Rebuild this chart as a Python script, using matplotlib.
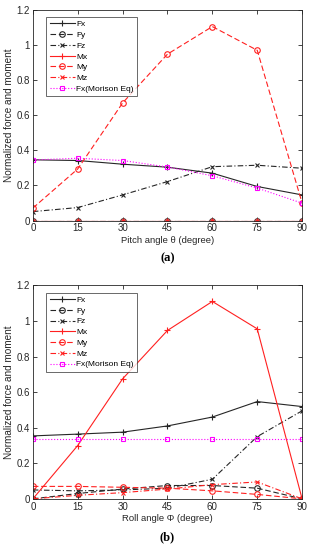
import numpy as np
import matplotlib.pyplot as plt

angles = [0, 15, 30, 45, 60, 75, 90]
yticks = [0, 0.2, 0.4, 0.6, 0.8, 1.0, 1.2]
ytick_labels = ['0', '0.2', '0.4', '0.6', '0.8', '1', '1.2']

# (a) pitch
pitch_fx = [0.346, 0.342, 0.321, 0.304, 0.270, 0.194, 0.146]
pitch_fy = [0, 0, 0, 0, 0, 0, 0]
pitch_fz = [0.051, 0.074, 0.146, 0.222, 0.307, 0.315, 0.298]
pitch_mx = [0, 0, 0, 0, 0, 0, 0]
pitch_my = [0.071, 0.294, 0.670, 0.948, 1.105, 0.970, 0.100]
pitch_mz = [0, 0, 0, 0, 0, 0, 0]
pitch_mor = [0.345, 0.355, 0.342, 0.305, 0.255, 0.185, 0.099]

# (b) roll
roll_fx = [0.354, 0.364, 0.375, 0.410, 0.460, 0.547, 0.519]
roll_fy = [0.0, 0.030, 0.055, 0.075, 0.075, 0.060, 0.0]
roll_fz = [0.050, 0.045, 0.050, 0.060, 0.110, 0.350, 0.495]
roll_mx = [0.0, 0.300, 0.675, 0.947, 1.110, 0.956, 0.0]
roll_my = [0.070, 0.070, 0.065, 0.060, 0.045, 0.025, 0.0]
roll_mz = [0.0, 0.020, 0.035, 0.055, 0.080, 0.095, 0.0]
roll_mor = [0.338, 0.338, 0.338, 0.338, 0.338, 0.338, 0.338]

labels = ['Fx', 'Fy', 'Fz', 'Mx', 'My', 'Mz', 'Fx(Morison Eq)']

plt.rcParams['font.family'] = ['Liberation Sans', 'DejaVu Sans']

fig = plt.figure(figsize=(3.16, 5.5), dpi=100)
ax_a = fig.add_axes([0.104, 0.599, 0.852, 0.383])
ax_b = fig.add_axes([0.104, 0.093, 0.852, 0.388])

blk = '#262626'
red = '#ff2020'
mag = '#ff00ff'


def dibujar(ax, series, xlabel):
    styles = [
        dict(color=blk, ls='-', marker='+', ms=5),
        dict(color=blk, ls=(0, (5, 2.5)), marker='o', mfc='none', ms=4),
        dict(color=blk, ls=(0, (5, 2, 1, 2)), marker='x', ms=3),
        dict(color=red, ls='-', marker='+', ms=5),
        dict(color=red, ls=(0, (5, 2.5)), marker='o', mfc='none', ms=4),
        dict(color=red, ls=(0, (5, 2, 1, 2)), marker='x', ms=3),
        dict(color=mag, ls=':', marker='s', mfc='none', ms=3.5),
    ]
    for s, st, lab in zip(series, styles, labels):
        ax.plot(angles, s, lw=0.8, mew=0.8, label=lab, **st)
    ax.set_xlim(0, 90)
    ax.set_ylim(0, 1.2)
    ax.set_xticks(angles)
    ax.set_yticks(yticks)
    ax.set_yticklabels(ytick_labels)
    ax.tick_params(direction='in', top=True, right=True, labelsize=7,
                   length=3, width=0.6, colors=blk, pad=2)
    for sp in ax.spines.values():
        sp.set_color(blk)
        sp.set_linewidth(0.6)
    ax.set_xlabel(xlabel, fontsize=6.8, labelpad=2, color=blk)
    ax.set_ylabel('Normalized force and moment', fontsize=7.2, labelpad=2, color=blk)
    leg = ax.legend(loc='upper left', fontsize=6, frameon=True, fancybox=False,
                    handlelength=3, borderpad=0.4, labelspacing=0.35,
                    handletextpad=0.2, bbox_to_anchor=(0.035, 0.985))
    leg.get_frame().set_edgecolor(blk)
    leg.get_frame().set_linewidth(0.6)


dibujar(ax_a, [pitch_fx, pitch_fy, pitch_fz, pitch_mx, pitch_my, pitch_mz, pitch_mor],
        'Pitch angle \u03b8 (degree)')
dibujar(ax_b, [roll_fx, roll_fy, roll_fz, roll_mx, roll_my, roll_mz, roll_mor],
        'Roll angle \u03a6 (degree)')

fig.text(0.53, 1 - 258 / 550, '(a)', ha='center', va='center', fontsize=9,
         fontweight='bold', family='Liberation Serif')
fig.text(0.53, 1 - 537 / 550, '(b)', ha='center', va='center', fontsize=9,
         fontweight='bold', family='Liberation Serif')

fig.savefig('out.png', dpi=100)
